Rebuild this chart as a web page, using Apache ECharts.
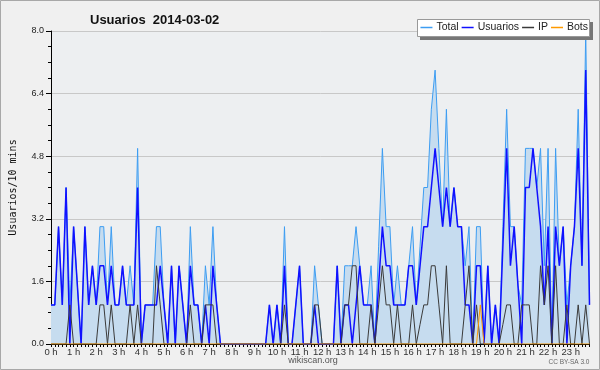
<!DOCTYPE html>
<html>
<head>
<meta charset="utf-8">
<script src="https://cdn.jsdelivr.net/npm/echarts@6/dist/echarts.min.js"></script>
<style>
html,body{margin:0;padding:0;background:#f0f0f0;}
#c{width:600px;height:370px;box-sizing:border-box;}
</style>
</head>
<body>
<div id="c"></div>
<script>
var hours = ['0 h','1 h','2 h','3 h','4 h','5 h','6 h','7 h','8 h','9 h','10 h','11 h','12 h','13 h','14 h','15 h','16 h','17 h','18 h','19 h','20 h','21 h','22 h','23 h'];
var yTicks = [0, 1.6, 3.2, 4.8, 6.4, 8.0];

var total = [
 1,1,3,1,4,1,  3,1.5,0,3,1,2,  1,3,3,1,3,1,  1,2,1,2,1,5,
 0,1,1,1,3,3,  1,0,2,0,2,1,  0,3,1,1,0,2,  1,3,1,0,0,0,
 0,0,0,0,0,0,  0,0,0,0,1,0,  1,0,3,0,0,1,  2,0,0,0,2,1,
 0,0,0,0,2,0,  2,2,2,3,2,1,  1,2,0,2.5,5,3,  3,1,2,1,1,2,
 3,1,2.5,4,4,6,  7,5,3,6,3,4,  3,3,2,3,0,3,  3,0,2,0,1,0,
 3,6,3,3,1.5,1,  5,5,5,4,5,2,  5,0,5,2,3,1,  2,3,6,2,8,1
];
var usuarios = [
 1,1,3,1,4,0,  3,1.5,0,3,1,2,  1,2,2,1,2,1,  1,2,1,1,1,4,
 0,1,1,1,1,2,  1,0,2,0,2,1,  0,2,1,1,0,1,  0,2,1,0,0,0,
 0,0,0,0,0,0,  0,0,0,0,1,0,  1,0,2,0,0,1,  2,0,0,0,1,0,
 0,0,0,0,2,0,  1,1,0,1,2,1,  1,1,0,1.5,3,2,  2,1,1,1,1,2,
 2,1,2,3,3,4,  5,4,3,4,3,4,  3,3,1,1,0,2,  2,0,2,0,1,0,
 2.5,5,2,3,1.5,0,  4,4,5,4,3,1,  3,0,3,2,3,0,  2,3,5,2,7,1
];
var ip = [
 0,0,0,0,0,1,  0,0,0,0,0,0,  0,1,1,0,1,0,  0,0,0,1,0,1,
 0,0,0,0,2,1,  0,0,0,0,0,0,  0,1,0,0,0,1,  1,1,0,0,0,0,
 0,0,0,0,0,0,  0,0,0,0,0,0,  0,0,1,0,0,0,  0,0,0,0,1,1,
 0,0,0,0,0,0,  1,1,2,2,0,0,  0,1,0,1,2,1,  1,0,1,0,0,0,
 1,0,0.5,1,1,2,  2,1,0,2,0,0,  0,0,1,2,0,1,  0,0,0,0,0,0,
 0.5,1,1,0,0,1,  1,1,0,0,2,1,  2,0,2,0,0,1,  0,0,1,0,1,0
];
var bots = [
 0,0,0,0,0,0,  0,0,0,0,0,0,  0,0,0,0,0,0,  0,0,0,0,0,0,
 0,0,0,0,0,0,  0,0,0,0,0,0,  0,0,0,0,0,0,  0,0,0,0,0,0,
 0,0,0,0,0,0,  0,0,0,0,0,0,  0,0,0,0,0,0,  0,0,0,0,0,0,
 0,0,0,0,0,0,  0,0,0,0,0,0,  0,0,0,0,0,0,  0,0,0,0,0,0,
 0,0,0,0,0,0,  0,0,0,0,0,0,  0,0,0,0,0,0,  1,0,0,0,0,0,
 0,0,0,0,0,0,  0,0,0,0,0,0,  0,0,0,0,0,0,  0,0,0,0,0,0
];

var cats = [];
for (var i = 0; i < total.length; i++) { cats.push(i % 6 === 0 ? hours[i / 6] : ''); }

var chart = echarts.init(document.getElementById('c'), null, {renderer: 'canvas'});
chart.setOption({
  animation: false,
  backgroundColor: '#f0f0f0',
  title: {
    text: 'Usuarios  2014-03-02',
    left: 85, top: 9,
    textStyle: {fontFamily: 'Liberation Sans', fontSize: 13, fontWeight: 'bold', color: '#111'}
  },
  graphic: [
    {type: 'rect', shape: {x: 0.5, y: 0.5, width: 599, height: 369}, style: {fill: 'none', stroke: '#a8a8a8', lineWidth: 1}, z: 0},
    {type: 'rect', shape: {x: 420, y: 22, width: 173, height: 18}, style: {fill: '#777'}, z: 5},
    {type: 'rect', shape: {x: 417.5, y: 19.5, width: 172, height: 17}, style: {fill: '#fff', stroke: '#999', lineWidth: 1}, z: 6},
    {type: 'text', x: 313, y: 356, style: {text: 'wikiscan.org', textAlign: 'center', fontFamily: 'Liberation Sans', fontSize: 9, fill: '#555'}, z: 10},
    {type: 'text', x: 569, y: 359, style: {text: 'CC BY-SA 3.0', textAlign: 'center', fontFamily: 'Liberation Sans', fontSize: 6.5, fill: '#666'}, z: 10}
  ],
  legend: {
    right: 12, top: 22,
    padding: 0,
    itemWidth: 12, itemHeight: 1.5, itemGap: 3,
    icon: 'rect',
    textStyle: {fontFamily: 'Liberation Sans', fontSize: 10.5, color: '#222', padding: [0, 0, 0, -1]},
    data: ['Total', 'Usuarios', 'IP', 'Bots'],
    z: 20
  },
  grid: {left: 46, right: 10.5, top: 31, bottom: 26, show: true, backgroundColor: '#edeff1', borderWidth: 0},
  xAxis: {
    type: 'category',
    data: cats,
    boundaryGap: false,
    axisLine: {lineStyle: {color: '#000', width: 1}},
    axisTick: {show: true, interval: 0, length: 3, lineStyle: {color: '#000'}},
    axisLabel: {interval: function (idx) { return idx % 6 === 0; }, fontFamily: 'Liberation Sans', fontSize: 9.5, color: '#333', margin: 3},
    splitLine: {show: false}
  },
  yAxis: {
    type: 'value',
    min: yTicks[0], max: yTicks[yTicks.length - 1], interval: yTicks[1],
    name: 'Usuarios/10 mins',
    nameLocation: 'middle', nameGap: 33, nameRotate: 90,
    nameTextStyle: {fontFamily: 'DejaVu Sans Mono', fontSize: 10, color: '#111'},
    axisLine: {show: true, lineStyle: {color: '#000', width: 1}},
    axisTick: {show: true, length: 5, lineStyle: {color: '#000'}},
    minorTick: {show: true, splitNumber: 4, length: 3, lineStyle: {color: '#000'}},
    axisLabel: {formatter: function (v) { return v.toFixed(1); }, fontFamily: 'Liberation Sans', fontSize: 9, color: '#222', margin: 7},
    splitLine: {show: true, lineStyle: {color: '#c8c8c8', width: 1}}
  },
  series: [
    {name: 'Total', type: 'line', data: total, symbol: 'none', lineStyle: {color: '#3d9df2', width: 1}, itemStyle: {color: '#3d9df2'}, areaStyle: {color: '#c6dcef', opacity: 1}, z: 2},
    {name: 'Usuarios', type: 'line', data: usuarios, symbol: 'none', lineStyle: {color: '#1010ff', width: 1.5}, itemStyle: {color: '#1010ff'}, z: 3},
    {name: 'IP', type: 'line', data: ip, symbol: 'none', lineStyle: {color: '#3a3a3a', width: 1}, itemStyle: {color: '#3a3a3a'}, z: 4},
    {name: 'Bots', type: 'line', data: bots, symbol: 'none', lineStyle: {color: '#ff9a00', width: 1}, itemStyle: {color: '#ff9a00'}, z: 5}
  ]
});
</script>
</body>
</html>
